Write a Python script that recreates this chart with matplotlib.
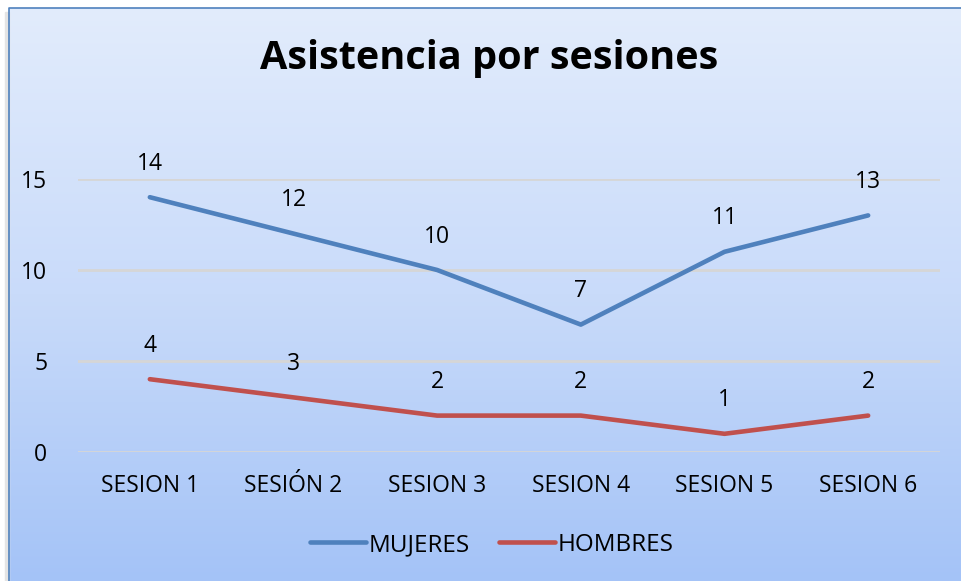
import numpy as np
import matplotlib
matplotlib.use("Agg")
from matplotlib import pyplot as plt
from matplotlib.colors import LinearSegmentedColormap
from matplotlib.patches import Rectangle

# data
sesiones = ["SESION 1", "SESIÓN 2", "SESION 3", "SESION 4", "SESION 5", "SESION 6"]
mujeres = [14, 12, 10, 7, 11, 13]
hombres = [4, 3, 2, 2, 1, 2]
y_ticks = [0, 5, 10, 15]

plt.rcParams['font.family'] = ['Open Sans', 'DejaVu Sans']

W, H = 961, 581
fig = plt.figure(figsize=(W / 100, H / 100), dpi=100)
fig.patch.set_facecolor("white")

# background: vertical gradient inside a framed box
bg = fig.add_axes([0, 0, 1, 1], zorder=-10)
bg.set_xlim(0, W)
bg.set_ylim(H, 0)
bg.axis("off")
cmap = LinearSegmentedColormap.from_list("bg", ["#E2ECFC", "#C9DBFA", "#A4C3F7"])
grad = np.linspace(0, 1, 256).reshape(-1, 1)
bg.imshow(grad, cmap=cmap, extent=[9, W, H, 8], aspect="auto", zorder=0)
bg.add_patch(Rectangle((5, 12), 4, H, color="#E4E4E4", zorder=0))
bg.plot([8.5, 8.5, W], [H, 7.5, 7.5], color="#4F81BD", lw=1.2, zorder=1)

ax = fig.add_axes([78 / W, 1 - 452 / H, (940 - 78) / W, (452 - 179) / H])
ax.set_facecolor("none")
x = np.arange(len(sesiones))
ax.plot(x, mujeres, color="#4F81BD", lw=3.3, solid_capstyle="round", label="MUJERES", clip_on=False)
ax.plot(x, hombres, color="#C0504D", lw=3.3, solid_capstyle="round", label="HOMBRES", clip_on=False)

for xi, v in zip(x, mujeres):
    ax.annotate(str(v), (xi, v), xytext=(0, 24), textcoords="offset points",
                ha="center", va="center", fontsize=16.5)
for xi, v in zip(x, hombres):
    ax.annotate(str(v), (xi, v), xytext=(0, 24), textcoords="offset points",
                ha="center", va="center", fontsize=16.5)

ax.set_xlim(-0.5, len(sesiones) - 0.5)
ax.set_ylim(0, 15)
ax.set_yticks(y_ticks)
ax.set_xticks(x)
ax.set_xticklabels(sesiones)
ax.yaxis.grid(True, color="#D6D6D6", lw=2)
ax.set_axisbelow(True)
for s in ax.spines.values():
    s.set_visible(False)
ax.tick_params(length=0, labelsize=16.5)
ax.tick_params(axis="x", pad=16)
ax.tick_params(axis="y", pad=22)

fig.text(489 / W, 1 - 58 / H, "Asistencia por sesiones", ha="center", va="center",
         fontsize=28.5, fontweight="bold")

fig.legend(loc="center", bbox_to_anchor=(492 / W, 1 - 545 / H), ncol=2, frameon=False,
           fontsize=17.5, handlelength=2.3, handletextpad=0.1, columnspacing=1.2)

fig.savefig("out.png", dpi=100)
